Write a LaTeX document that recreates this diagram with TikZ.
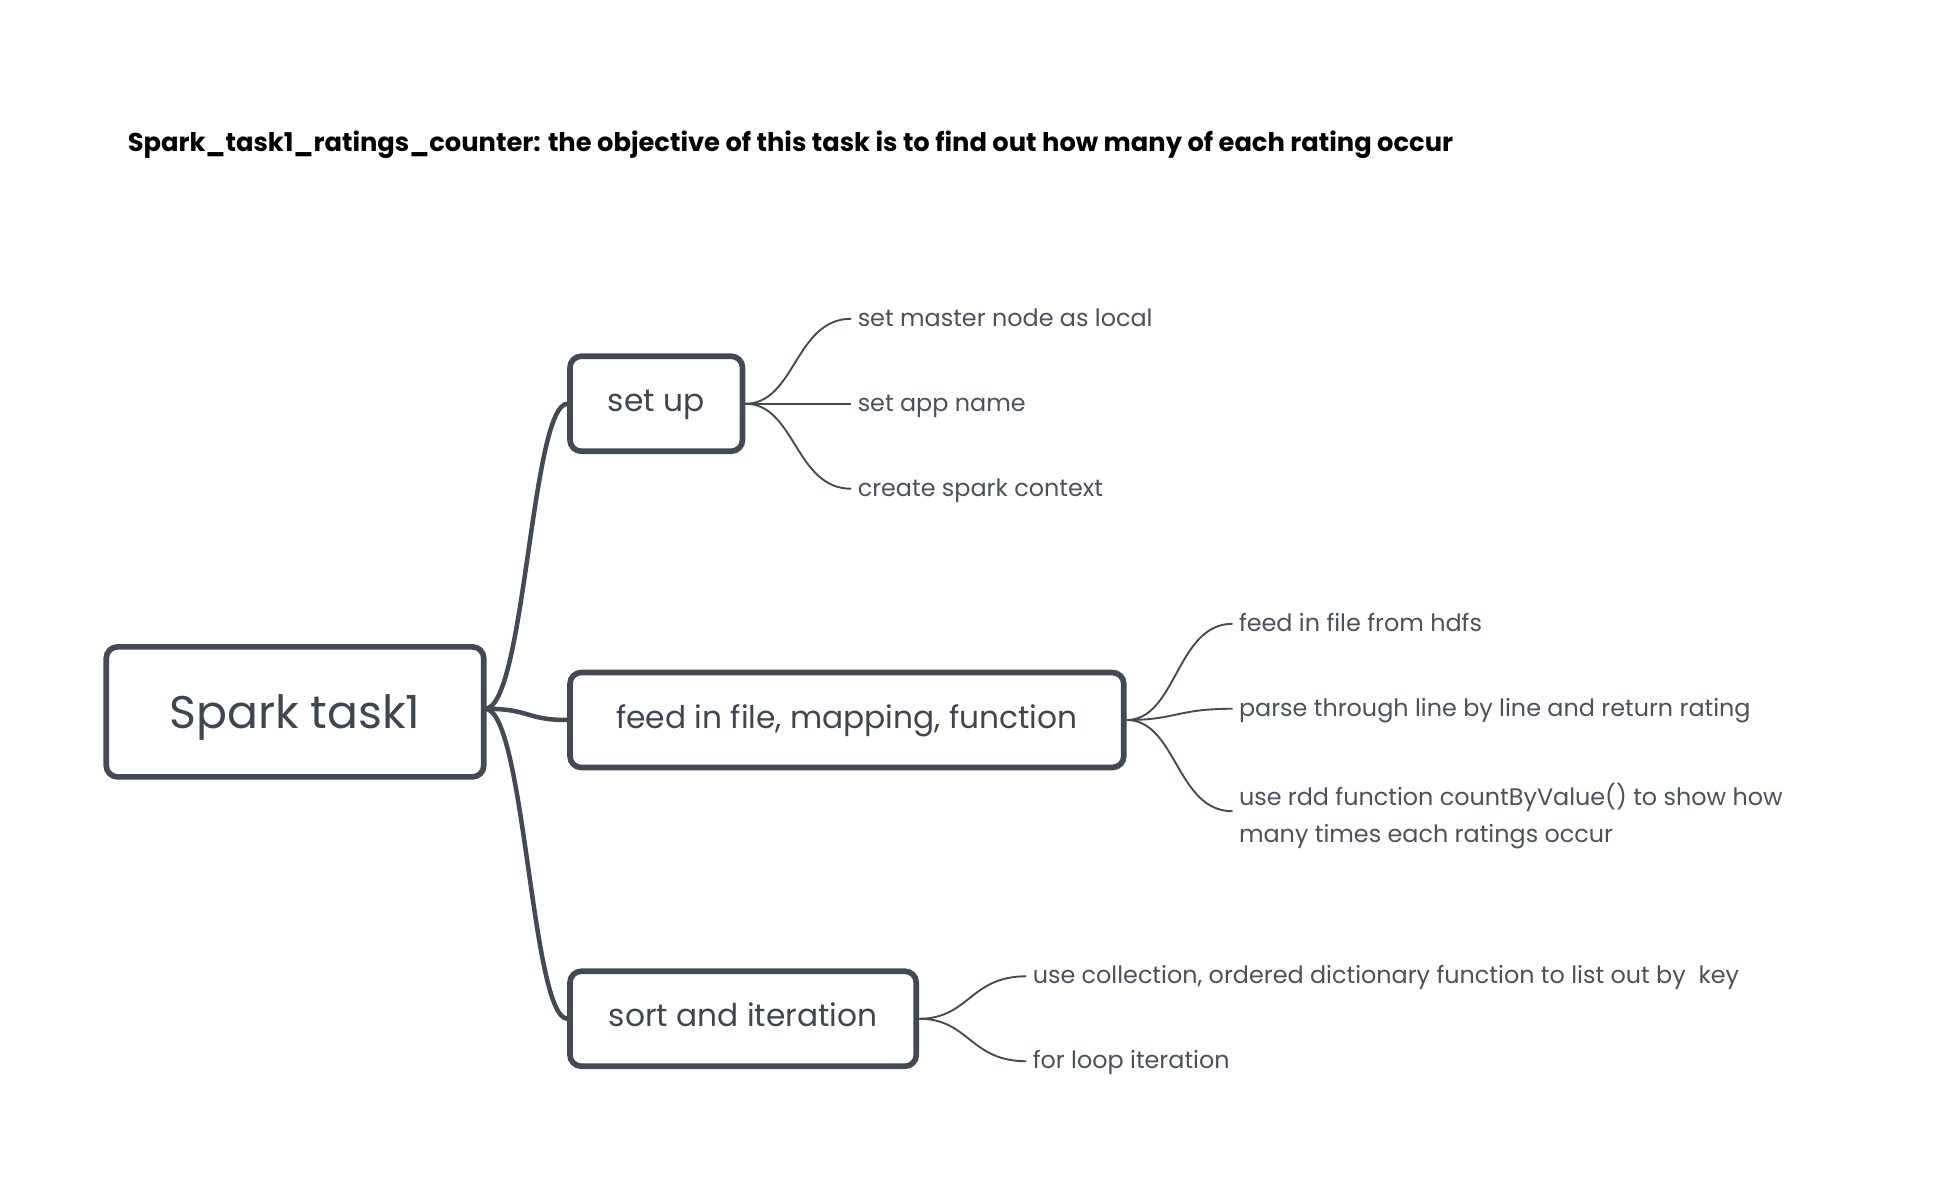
\documentclass[tikz,border=0pt]{standalone}
\usepackage{fontspec}
\setmainfont{Poppins}
\definecolor{boxcol}{RGB}{67,74,84}
\definecolor{txtcol}{RGB}{63,70,80}
\definecolor{leafcol}{RGB}{75,82,91}
\tikzset{
  topic/.style={draw=boxcol, line width=4.5pt, rounded corners=9pt, fill=white,
    text=txtcol, inner sep=0pt, minimum height=76pt, text height=13pt, text depth=0pt,
    font=\fontsize{25}{30}\selectfont},
  rootbox/.style={topic, minimum height=104pt, text height=26pt, font=\fontsize{36.6}{44}\selectfont},
  leaf/.style={anchor=base west, inner sep=0pt, text=leafcol, font=\fontsize{19.1}{30}\selectfont},
  mainlink/.style={draw=boxcol, line width=3.6pt},
  leaflink/.style={draw=boxcol, line width=1.5pt}
}
\begin{document}
\begin{tikzpicture}[x=1pt,y=-1pt]
\useasboundingbox[fill=white] (0,0) rectangle (1560,950);
\node[anchor=base west, inner sep=0pt, font=\fontsize{20.6}{24}\selectfont\bfseries] (title) at (102,121)
  {Spark\_task1\_ratings\_counter: the objective of this task is to find out how many of each rating occur};

% links from root (drawn first, boxes on top)
\coordinate (rootout) at (388,567);
\coordinate (setin) at (454,323);
\coordinate (feedin) at (454,576);
\coordinate (sortin) at (454,815);
\draw[mainlink] (rootout) .. controls (420,567) and (425,323) .. (setin);
\draw[mainlink] (rootout) .. controls (425,567) and (420,576) .. (feedin);
\draw[mainlink] (rootout) .. controls (420,567) and (425,815) .. (sortin);

\node[rootbox, minimum width=302pt] (root) at (236,569.5) {Spark task1};
\node[topic, minimum width=138pt] (setup) at (525,323) {set up};
\node[topic, minimum width=443pt] (feed) at (677.5,576) {feed in file, mapping, function};
\node[topic, minimum width=277pt] (sort) at (594.5,815) {sort and iteration};

% leaves
\node[leaf] (l1) at (686,261) {set master node as local};
\node[leaf] (l2) at (686,329) {set app name};
\node[leaf] (l3) at (686,397) {create spark context};
\node[leaf] (f1) at (991,505) {feed in file from hdfs};
\node[leaf] (f2) at (991,573) {parse through line by line and return rating};
\node[leaf] (f3) at (991,644) {\begin{tabular}[t]{@{}l@{}}use rdd function countByValue() to show how\\many times each ratings occur\end{tabular}};
\node[leaf] (s1) at (826,787) {use collection, ordered dictionary function to list out by\ \ key};
\node[leaf] (s2) at (826,855) {for loop iteration};

\draw[leaflink] (setup.east) .. controls +(40,0) and +(-45,0) .. ([shift={(-5,-6)}]l1.base west);
\draw[leaflink] (setup.east) -- ([shift={(-5,-6)}]l2.base west);
\draw[leaflink] (setup.east) .. controls +(40,0) and +(-45,0) .. ([shift={(-5,-6)}]l3.base west);
\draw[leaflink] (feed.east) .. controls +(40,0) and +(-45,0) .. ([shift={(-5,-6)}]f1.base west);
\draw[leaflink] (feed.east) .. controls +(40,0) and +(-45,0) .. ([shift={(-5,-6)}]f2.base west);
\draw[leaflink] (feed.east) .. controls +(40,0) and +(-45,0) .. ([shift={(-5,5)}]f3.base west);
\draw[leaflink] (sort.east) .. controls +(40,0) and +(-45,0) .. ([shift={(-5,-6)}]s1.base west);
\draw[leaflink] (sort.east) .. controls +(40,0) and +(-45,0) .. ([shift={(-5,-6)}]s2.base west);
\end{tikzpicture}
\end{document}
